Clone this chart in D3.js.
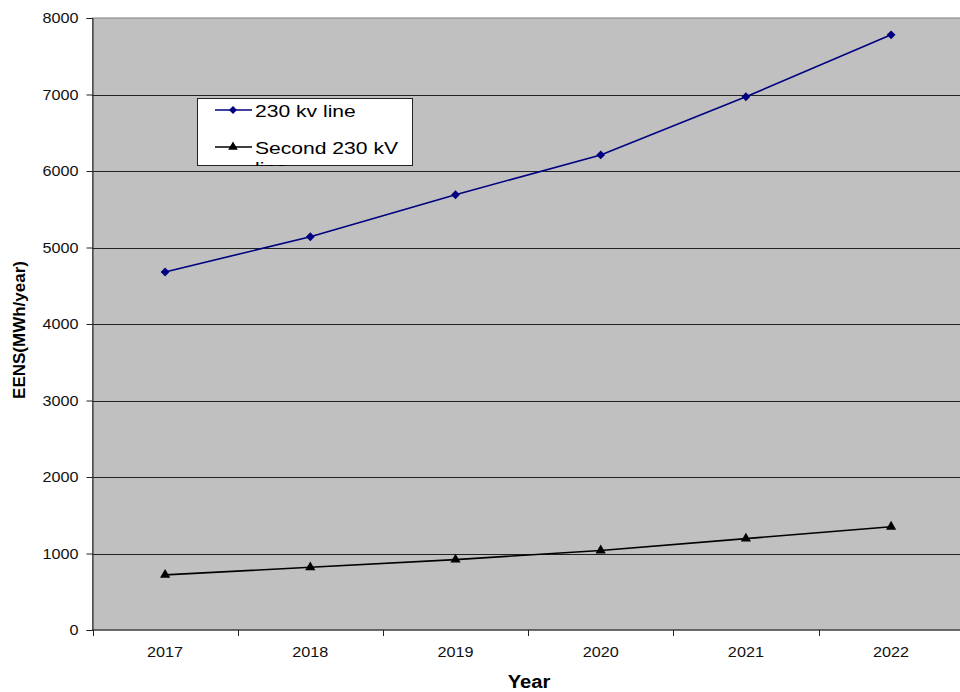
<!DOCTYPE html>
<html>
<head>
<meta charset="utf-8">
<script src="https://cdn.jsdelivr.net/npm/d3@7"></script>
<style>
  body { margin: 0; background: #fff; }
  svg { display: block; font-family: "Liberation Sans", Arial, sans-serif; }
</style>
</head>
<body>
<svg id="chart" width="960" height="692"></svg>
<script>
// EENS per year for two supply options
const years = ["2017", "2018", "2019", "2020", "2021", "2022"];
const line230 = [4680, 5140, 5690, 6210, 6970, 7780];
const second230 = [720, 820, 920, 1040, 1195, 1350];
const yTicks = [0, 1000, 2000, 3000, 4000, 5000, 6000, 7000, 8000];
const seriesNames = ["230 kv line", "Second 230 kV line"];

const svg = d3.select("#chart");
const plotLeft = 92.5, plotTop = 18, plotBottom = 630, bandW = 145.2;
const plotRight = plotLeft + bandW * years.length;

const x = d3.scaleBand().domain(years).range([plotLeft, plotRight]);
const y = d3.scaleLinear().domain([0, 8000]).range([plotBottom, plotTop]);

// widen glyphs horizontally by factor k
function stretch(sel, k) {
  sel.each(function () {
    const w = this.getComputedTextLength();
    d3.select(this).attr("textLength", w * k).attr("lengthAdjust", "spacingAndGlyphs");
  });
}

// plot area
svg.append("rect").attr("x", plotLeft).attr("y", plotTop)
  .attr("width", plotRight - plotLeft).attr("height", plotBottom - plotTop)
  .attr("fill", "#c0c0c0").attr("stroke", "#808080").attr("stroke-width", 1);

// gridlines
svg.append("g").selectAll("line").data(yTicks.filter(d => d > 0 && d < 8000)).join("line")
  .attr("x1", plotLeft).attr("x2", plotRight)
  .attr("y1", d => Math.round(y(d)) + 0.5).attr("y2", d => Math.round(y(d)) + 0.5)
  .attr("stroke", "#222").attr("stroke-width", 1);

// y axis
const yAxis = svg.append("g").attr("transform", `translate(${plotLeft},0)`)
  .call(d3.axisLeft(y).tickValues(yTicks).tickSize(6).tickPadding(8).tickFormat(d3.format("d")));
yAxis.select(".domain").attr("stroke", "#222");
yAxis.selectAll(".tick line").attr("stroke", "#222");
yAxis.selectAll("text").attr("font-size", 15).attr("fill", "#111")
  .attr("font-family", "'Liberation Sans', Arial, sans-serif").call(stretch, 1.08);

// x axis with ticks on band boundaries
const xg = svg.append("g").attr("transform", `translate(0,${plotBottom})`);
xg.append("line").attr("x1", plotLeft).attr("x2", plotRight).attr("stroke", "#222");
const bounds = years.map(d => x(d)).concat([plotRight]);
xg.selectAll("line.tk").data(bounds).join("line").attr("class", "tk")
  .attr("x1", d => Math.round(d) + 0.5).attr("x2", d => Math.round(d) + 0.5)
  .attr("y1", 0).attr("y2", 6).attr("stroke", "#222");
xg.selectAll("text").data(years).join("text")
  .attr("x", d => x(d) + x.bandwidth() / 2).attr("y", 27)
  .attr("text-anchor", "middle").attr("font-size", 15).attr("fill", "#111")
  .text(d => d).call(stretch, 1.08);

// axis titles
svg.append("text").attr("x", 529).attr("y", 688).attr("text-anchor", "middle")
  .attr("font-size", 18).attr("font-weight", "bold").text("Year").call(stretch, 1.12);
svg.append("text").attr("transform", "translate(25,330) rotate(-90)")
  .attr("text-anchor", "middle").attr("font-size", 17).attr("font-weight", "bold")
  .text("EENS(MWh/year)");

const cx = d => x(d) + x.bandwidth() / 2;
const lineGen = vals => d3.line().x((v, i) => cx(years[i])).y(v => y(v))(vals);

// series 1: navy with diamonds
svg.append("path").attr("d", lineGen(line230)).attr("fill", "none")
  .attr("stroke", "#000080").attr("stroke-width", 1.6);
svg.append("g").selectAll("path").data(line230).join("path")
  .attr("transform", (v, i) => `translate(${cx(years[i])},${y(v)})`)
  .attr("d", d3.symbol(d3.symbolDiamond2, 50)).attr("fill", "#000080");

// series 2: black with triangles
svg.append("path").attr("d", lineGen(second230)).attr("fill", "none")
  .attr("stroke", "#000").attr("stroke-width", 1.6);
svg.append("g").selectAll("path").data(second230).join("path")
  .attr("transform", (v, i) => `translate(${cx(years[i])},${y(v)})`)
  .attr("d", d3.symbol(d3.symbolTriangle, 45)).attr("fill", "#000");

// legend (text clipped to its box)
const lg = svg.append("g").attr("transform", "translate(197,98)");
svg.append("clipPath").attr("id", "lgclip").append("rect")
  .attr("x", 0).attr("y", 0).attr("width", 216).attr("height", 68);
lg.append("rect").attr("x", 0.5).attr("y", 0.5).attr("width", 215).attr("height", 67)
  .attr("fill", "#fff").attr("stroke", "#222");
const inner = lg.append("g").attr("clip-path", "url(#lgclip)");
// row 1
inner.append("line").attr("x1", 18).attr("x2", 55).attr("y1", 12).attr("y2", 12)
  .attr("stroke", "#000080").attr("stroke-width", 1.6);
inner.append("path").attr("transform", "translate(36,12)")
  .attr("d", d3.symbol(d3.symbolDiamond2, 40)).attr("fill", "#000080");
inner.append("text").attr("x", 58).attr("y", 19).attr("font-size", 17)
  .text(seriesNames[0]).call(stretch, 1.24);
// row 2 (wraps onto a clipped second line)
inner.append("line").attr("x1", 18).attr("x2", 55).attr("y1", 49).attr("y2", 49)
  .attr("stroke", "#000").attr("stroke-width", 1.6);
inner.append("path").attr("transform", "translate(36,49)")
  .attr("d", d3.symbol(d3.symbolTriangle, 40)).attr("fill", "#000");
inner.append("text").attr("x", 58).attr("y", 56).attr("font-size", 17)
  .text("Second 230 kV").call(stretch, 1.24);
inner.append("text").attr("x", 58).attr("y", 76).attr("font-size", 17)
  .text("line").call(stretch, 1.24);
</script>
</body>
</html>
